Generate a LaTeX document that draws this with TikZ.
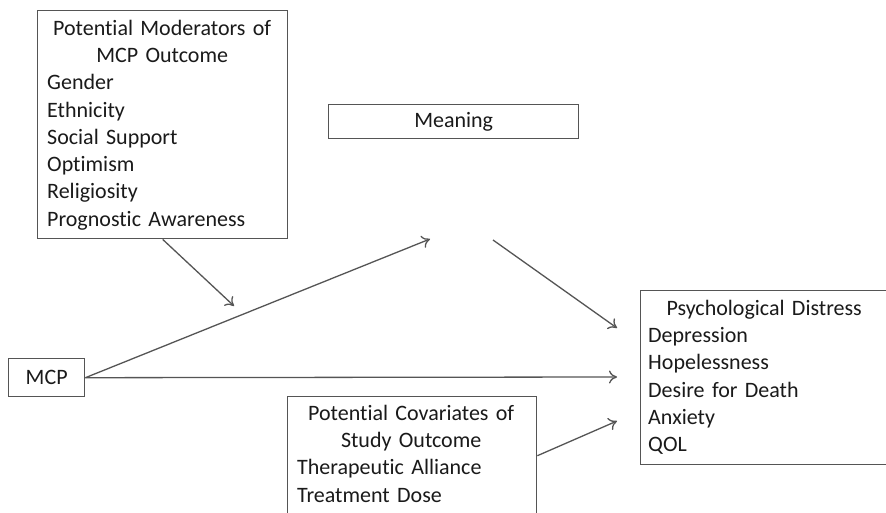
\documentclass[tikz,border=0pt]{standalone}
\usepackage{fontspec}
\setmainfont{Carlito}[Ligatures=NoCommon]
\usetikzlibrary{arrows.meta}
\definecolor{linegray}{HTML}{555555}
\definecolor{textgray}{HTML}{1A1A1A}
\tikzset{
  box/.style={draw=linegray, line width=1.4pt, fill=none, inner sep=0pt, anchor=north west},
  txt/.style={inner sep=0pt, text=textgray, font=\fontsize{22}{27.3}\selectfont},
  blocktxt/.style={txt, anchor=north west, align=left},
  arr/.style={draw=linegray, line width=1.3pt, -{To[length=8pt,width=13pt]}},
}
\newcommand{\firstline}{\rule{0pt}{20pt}}
\newcommand{\ctr}[1]{\makebox[\linewidth][c]{#1}}
\begin{document}
\begin{tikzpicture}[x=1pt,y=-1pt]
\useasboundingbox (0,0) rectangle (886,513);
\clip (0,0) rectangle (886,513);
\fill[white] (0,0) rectangle (886,513);

% boxes
\node[box, minimum width=250pt, minimum height=228pt] (mod) at (37,10) {};
\node[box, minimum width=250pt, minimum height=34pt] (meaningbox) at (328,104) {};
\node[box, minimum width=76pt, minimum height=38pt] (mcp) at (8,358) {};
\node[box, minimum width=250pt, minimum height=174pt] (psy) at (640,290) {};
\node[box, minimum width=249pt, minimum height=118pt] (cov) at (287,396) {};

% texts
\node[blocktxt, text width=230pt] (modtxt) at (47,15) {\firstline\ctr{Potential Moderators of}\\
\ctr{MCP Outcome}\\Gender\\Ethnicity\\Social Support\\Optimism\\Religiosity\\Prognostic Awareness};
\node[txt] (meaningtxt) at (meaningbox.center) {Meaning};
\node[txt] (mcptxt) at (mcp.center) {MCP};
\node[blocktxt, text width=232pt] (psytxt) at (648,295) {\firstline\ctr{Psychological Distress}\\
Depression\\Hopelessness\\Desire for Death\\Anxiety\\QOL};
\node[blocktxt, text width=228pt] (covtxt) at (297,400) {\firstline\ctr{Potential Covariates of}\\
\ctr{Study Outcome}\\Therapeutic Alliance\\Treatment Dose};

% free ends
\coordinate (meaningin) at (430,239);
\coordinate (meaningout) at (493,240);
\coordinate (psyin1) at (617,328);
\coordinate (psyin2) at (617,377);
\coordinate (psyin3) at (617,421);
\coordinate (modtip) at (234,306);

% connectors
\draw[arr] (mcp.east) -- (meaningin);
\draw[arr] (meaningout) -- (psyin1);
\draw[arr] (mcp.east) -- (psyin2);
\draw[arr] (cov.east) -- (psyin3);
\draw[arr] (mod.south) -- (modtip);
\end{tikzpicture}
\end{document}
